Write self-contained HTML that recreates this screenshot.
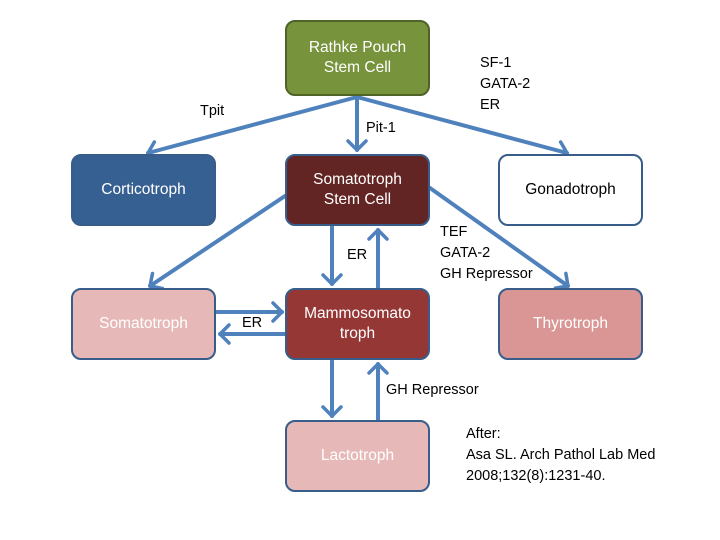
<!DOCTYPE html>
<html><head><style>
body{margin:0;width:720px;height:540px;background:#fff;font-family:"Liberation Sans",sans-serif;overflow:hidden}
.b{position:absolute;width:145px;height:72px;border:2px solid #385d8a;border-radius:10px;box-sizing:border-box;display:flex;align-items:center;justify-content:center;text-align:center;font-size:15.5px;line-height:20px;color:#fff}
.t{position:absolute;font-size:14.5px;line-height:21px;color:#000}
</style></head><body>
<svg width="720" height="540" style="position:absolute;left:0;top:0" fill="none" stroke="#4f81bd" stroke-width="4" stroke-linecap="round" stroke-linejoin="round">
<defs><marker id="a" markerWidth="16" markerHeight="22" refX="11" refY="11" orient="auto" markerUnits="userSpaceOnUse" viewBox="0 0 16 22"><path d="M2,2 L11,11 L2,20" stroke="#4f81bd" stroke-width="3.5" fill="none" stroke-linecap="round"/></marker></defs>
<g marker-end="url(#a)">
<line x1="357" y1="97" x2="148" y2="153"/>
<line x1="357" y1="97" x2="357" y2="150"/>
<line x1="357" y1="97" x2="567" y2="153"/>
<line x1="285" y1="196" x2="150" y2="286"/>
<line x1="430" y1="188" x2="568" y2="286"/>
<line x1="332" y1="227" x2="332" y2="284"/>
<line x1="378" y1="288" x2="378" y2="230"/>
<line x1="217" y1="312" x2="282" y2="312"/>
<line x1="285" y1="334" x2="220" y2="334"/>
<line x1="332" y1="361" x2="332" y2="416"/>
<line x1="378" y1="420" x2="378" y2="364"/>
</g>
</svg>
<div class="b" style="left:285px;top:20px;height:76px;background:#77933c;border-color:#4f6228">Rathke Pouch<br>Stem Cell</div>
<div class="b" style="left:71px;top:154px;background:#376092">Corticotroph</div>
<div class="b" style="left:285px;top:154px;background:#632523">Somatotroph<br>Stem Cell</div>
<div class="b" style="left:498px;top:154px;background:#fff;color:#000">Gonadotroph</div>
<div class="b" style="left:71px;top:288px;background:#e6b9b8">Somatotroph</div>
<div class="b" style="left:285px;top:288px;background:#953735">Mammosomato<br>troph</div>
<div class="b" style="left:498px;top:288px;background:#d99694">Thyrotroph</div>
<div class="b" style="left:285px;top:420px;background:#e6b9b8">Lactotroph</div>
<div class="t" style="left:480px;top:53px">SF-1<br>GATA-2<br>ER</div>
<div class="t" style="left:200px;top:101px">Tpit</div>
<div class="t" style="left:366px;top:118px">Pit-1</div>
<div class="t" style="left:440px;top:222px">TEF<br>GATA-2<br>GH Repressor</div>
<div class="t" style="left:347px;top:245px">ER</div>
<div class="t" style="left:242px;top:313px">ER</div>
<div class="t" style="left:386px;top:380px">GH Repressor</div>
<div class="t" style="left:466px;top:424px">After:<br>Asa SL. Arch Pathol Lab Med<br>2008;132(8):1231-40.</div>
</body></html>
